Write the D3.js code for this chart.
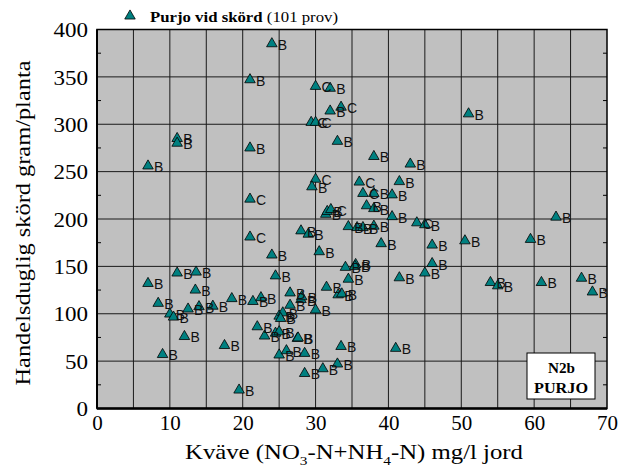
<!DOCTYPE html>
<html>
<head>
<meta charset="utf-8">
<script src="https://cdn.jsdelivr.net/npm/d3@7"></script>
<style>
  html, body { margin: 0; padding: 0; background: #fff; }
  svg { display: block; }
</style>
</head>
<body>
<svg id="chart" width="634" height="473"></svg>
<script>
// Nitrogen in soil (mg/l) for each leek sample
const nitrogen = [
  11, 11, 7, 21, 24, 21, 21, 21, 24, 11,
  13.6, 7, 13.5, 8.4, 10, 10.5, 12.5, 14, 15.9, 18.5,
  21.4, 22.5, 24.5, 26.5, 28, 26.5, 25, 25.5, 30, 31.5,
  33.1, 33.6, 34.5, 12, 9, 17.5, 22, 23, 24.5, 25,
  27.5, 27.6, 25, 26, 28.5, 33.5, 33, 31, 28.5, 19.5,
  30, 32, 32, 33.5, 29.4, 30, 33, 30, 29.5, 31.4,
  31.6, 32.1, 28, 29, 30.5, 34.1, 35.5, 38, 43, 36,
  41.5, 36.5, 38, 40.5, 37, 38, 40.5, 34.5, 35.7, 36.5,
  38, 39, 43.9, 45, 46, 46, 45, 41.5, 41, 50.5,
  59.5, 63, 51, 54, 55, 61, 66.5, 68, 28.1, 25.2,
  35.4
];
// Marketable yield, gram per plant
const yieldG = [
  285, 280, 256, 347, 385, 275, 221, 181, 162, 143,
  144, 132, 125, 111, 99.7, 96.5, 105, 107.5, 108, 116,
  113, 117, 140, 122, 115, 109, 97.5, 101, 104, 128,
  120, 121, 136.5, 76, 57, 66.5, 86.3, 76.5, 79.5, 81,
  74, 74.5, 56.5, 61, 58.2, 65.5, 47, 42, 37, 19.5,
  340, 338, 314, 318, 302, 302, 282, 242, 234, 205,
  208, 210, 187.5, 184, 165.5, 149, 152, 266, 258, 239,
  239.5, 227, 227, 225.5, 214, 211, 202.5, 192, 191, 191,
  192.5, 174, 196, 194, 172.5, 153, 143, 138, 63.5, 177,
  178.5, 202, 311, 133, 129.5, 133, 137.5, 123, 118, 95,
  150
];
// Quality class for each sample
const grade = [
  "B", "B", "B", "B", "B", "B", "C", "C", "B", "B",
  "B", "B", "B", "B", "B", "B", "B", "B", "B", "B",
  "B", "B", "B", "B", "B", "B", "B", "B", "B", "B",
  "B", "B", "B", "B", "B", "B", "B", "B", "B", "B",
  "B", "B", "B", "B", "B", "B", "B", "B", "B", "B",
  "C", "B", "B", "C", "C", "C", "B", "C", "B", "B",
  "B", "C", "B", "B", "B", "B", "B", "B", "B", "C",
  "B", "C", "B", "B", "B", "B", "B", "B", "B", "B",
  "B", "B", "C", "B", "B", "B", "B", "B", "B", "B",
  "B", "B", "B", "B", "B", "B", "B", "B", "B", "B",
  "B"
];

const xTicks = [0, 10, 20, 30, 40, 50, 60, 70];
const yTicks = [0, 50, 100, 150, 200, 250, 300, 350, 400];
const xGrid = d3.range(5, 70, 5);
const yGrid = [50, 100, 150, 200, 250, 300, 350];
const yMinor = [25, 75, 125, 175, 225, 275, 325, 375];

const serif = "'Liberation Serif', 'Times New Roman', serif";
const sans = "'Liberation Sans', Arial, sans-serif";
const markerFill = "#008080";

const svg = d3.select("#chart");
const x = d3.scaleLinear().domain([0, 70]).range([97, 607]);
const y = d3.scaleLinear().domain([0, 400]).range([408.5, 29.5]);

// plot background
svg.append("rect")
  .attr("x", x(0)).attr("y", y(400))
  .attr("width", x(70) - x(0)).attr("height", y(0) - y(400))
  .attr("fill", "#c0c0c0");

// grid
const grid = svg.append("g").attr("stroke", "#1a1a1a").attr("stroke-width", 1);
grid.selectAll("line.v").data(xGrid).join("line")
  .attr("x1", d => x(d)).attr("x2", d => x(d))
  .attr("y1", y(400)).attr("y2", y(0));
grid.selectAll("line.h").data(yGrid).join("line")
  .attr("y1", d => y(d)).attr("y2", d => y(d))
  .attr("x1", x(0)).attr("x2", x(70));

// minor ticks on both vertical edges
const minor = svg.append("g").attr("stroke", "#000").attr("stroke-width", 1);
minor.selectAll("line.l").data(yMinor).join("line")
  .attr("x1", x(0)).attr("x2", x(0) + 4)
  .attr("y1", d => y(d)).attr("y2", d => y(d));
minor.selectAll("line.r").data(yMinor).join("line")
  .attr("x1", x(70)).attr("x2", x(70) - 4)
  .attr("y1", d => y(d)).attr("y2", d => y(d));

// frame
svg.append("rect")
  .attr("x", x(0)).attr("y", y(400))
  .attr("width", x(70) - x(0)).attr("height", y(0) - y(400))
  .attr("fill", "none").attr("stroke", "#000").attr("stroke-width", 1.5);
svg.append("line")
  .attr("x1", x(0)).attr("x2", x(70)).attr("y1", y(0)).attr("y2", y(0))
  .attr("stroke", "#000").attr("stroke-width", 2.5);
svg.append("line")
  .attr("x1", x(0)).attr("x2", x(0)).attr("y1", y(400)).attr("y2", y(0))
  .attr("stroke", "#000").attr("stroke-width", 2);

// axes (labels only)
const xAxis = svg.append("g")
  .attr("transform", `translate(0,${y(0)})`)
  .call(d3.axisBottom(x).tickValues(xTicks).tickSize(0).tickPadding(7));
const yAxis = svg.append("g")
  .attr("transform", `translate(${x(0)},0)`)
  .call(d3.axisLeft(y).tickValues(yTicks).tickSize(0).tickPadding(9));
[xAxis, yAxis].forEach(g => {
  g.select(".domain").remove();
  g.selectAll("text")
    .attr("font-family", serif).attr("font-size", 21).attr("fill", "#000");
});
yAxis.selectAll("text").attr("dy", "0.34em")
  .attr("textLength", d => String(d).length * 11.5)
  .attr("lengthAdjust", "spacingAndGlyphs");
xAxis.selectAll("text")
  .attr("textLength", d => String(d).length * 10.5)
  .attr("lengthAdjust", "spacingAndGlyphs");

// axis titles
const xTitle = svg.append("text")
  .attr("x", 185).attr("y", 459)
  .attr("textLength", 338).attr("lengthAdjust", "spacingAndGlyphs")
  .attr("font-family", serif).attr("font-size", 21).attr("fill", "#000");
xTitle.append("tspan").text("Kväve (NO");
xTitle.append("tspan").attr("dy", 6).attr("font-size", 13).text("3");
xTitle.append("tspan").attr("dy", -6).text("-N+NH");
xTitle.append("tspan").attr("dy", 6).attr("font-size", 13).text("4");
xTitle.append("tspan").attr("dy", -6).text("-N) mg/l jord");

svg.append("text")
  .attr("transform", `translate(30,${(y(0) + y(400)) / 2 + 4}) rotate(-90)`)
  .attr("text-anchor", "middle")
  .attr("textLength", 325).attr("lengthAdjust", "spacingAndGlyphs")
  .attr("font-family", serif).attr("font-size", 21).attr("fill", "#000")
  .text("Handelsduglig skörd gram/planta");

// samples
const tri = d3.symbol().type(d3.symbolTriangle).size(48);
const pts = nitrogen.map((n, i) => ({ n, v: yieldG[i], g: grade[i] }));
const pg = svg.append("g");
pg.selectAll("path").data(pts).join("path")
  .attr("d", tri)
  .attr("transform", d => `translate(${x(d.n)},${y(d.v)})`)
  .attr("fill", markerFill).attr("stroke", "#000").attr("stroke-width", 0.8);
pg.selectAll("text").data(pts).join("text")
  .attr("x", d => x(d.n) + 6).attr("y", d => y(d.v) + 6)
  .attr("font-family", sans).attr("font-size", 14).attr("fill", "#111")
  .text(d => d.g);

// legend
svg.append("path")
  .attr("d", tri)
  .attr("transform", "translate(130,16)")
  .attr("fill", markerFill).attr("stroke", "#000").attr("stroke-width", 0.8);
const leg = svg.append("text")
  .attr("x", 150).attr("y", 22)
  .attr("textLength", 188).attr("lengthAdjust", "spacingAndGlyphs")
  .attr("font-family", serif).attr("font-size", 15).attr("fill", "#000");
leg.append("tspan").attr("font-weight", "bold").text("Purjo vid skörd");
leg.append("tspan").text(" (101 prov)");

// site / crop box
svg.append("rect")
  .attr("x", 527).attr("y", 353).attr("width", 68).attr("height", 46)
  .attr("fill", "#fff").attr("stroke", "#000").attr("stroke-width", 1);
const box = svg.append("g")
  .attr("font-family", serif).attr("font-size", 15)
  .attr("font-weight", "bold").attr("fill", "#000");
box.append("text").attr("x", 548).attr("y", 373)
  .attr("textLength", 27).attr("lengthAdjust", "spacingAndGlyphs").text("N2b");
box.append("text").attr("x", 534).attr("y", 393)
  .attr("textLength", 54).attr("lengthAdjust", "spacingAndGlyphs").text("PURJO");
</script>
</body>
</html>
